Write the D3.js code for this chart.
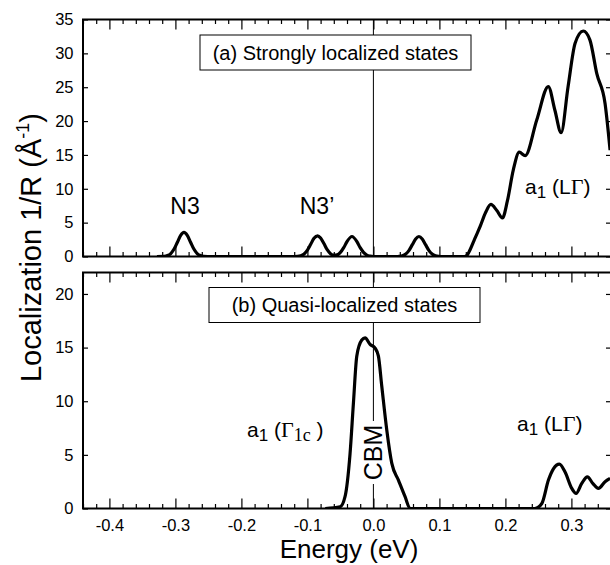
<!DOCTYPE html>
<html>
<head>
<meta charset="utf-8">
<style>
  body { margin: 0; background: #fff; }
  text { font-family: "Liberation Sans", Arial, sans-serif; fill: #000; }
  .serif { font-family: "Liberation Serif", "Times New Roman", serif; }
</style>
</head>
<body>
<div class="chart"></div>
<script src="https://cdn.jsdelivr.net/npm/d3@7/dist/d3.min.js"></script>
<script type="text/javascript">

// (a) strongly localized states: energy (eV) and 1/R values
var topEnergy = [-0.328, -0.317, -0.312, -0.307, -0.302, -0.297, -0.292, -0.287, -0.282, -0.277, -0.272, -0.267, -0.262, -0.257, -0.245,
    -0.125, -0.115, -0.11, -0.105, -0.10, -0.095, -0.09, -0.0845, -0.08, -0.075, -0.07, -0.065, -0.06, -0.055, -0.05, -0.045, -0.04, -0.0325, -0.025, -0.02, -0.015, -0.01, -0.005, 0.0,
    0.034, 0.039, 0.044, 0.049, 0.054, 0.059, 0.064, 0.069, 0.074, 0.079, 0.084, 0.089, 0.094, 0.099, 0.105,
    0.138, 0.142, 0.1465, 0.1535, 0.1616, 0.17, 0.178, 0.187, 0.1955, 0.203, 0.212, 0.221, 0.23, 0.2476, 0.265, 0.275, 0.2844, 0.295, 0.3056, 0.318, 0.328, 0.3385, 0.351, 0.3586];
var topValue = [0, 0.03, 0.14, 0.44, 1.10, 2.11, 3.12, 3.55, 3.12, 2.11, 1.10, 0.44, 0.14, 0.03, 0,
    0, 0.03, 0.12, 0.38, 0.95, 1.81, 2.68, 3.05, 2.72, 1.92, 1.0, 0.42, 0.19, 0.24, 0.60, 1.30, 2.2, 2.95, 2.2, 1.30, 0.60, 0.21, 0.06, 0,
    0, 0.03, 0.12, 0.37, 0.91, 1.75, 2.59, 2.95, 2.59, 1.75, 0.91, 0.37, 0.12, 0.03, 0,
    0, 0.2, 1.0, 2.6, 4.4, 6.5, 7.7, 6.8, 5.7, 8.2, 12.8, 15.4, 14.9, 20.2, 25.1, 21.6, 18.3, 25.1, 31.5, 33.3, 32.0, 27.0, 22.6, 15.7];

// (b) quasi-localized states
var bottomEnergy = [-0.073, -0.0505, -0.043, -0.0354, -0.0303, -0.0252, -0.0176, -0.0126, -0.005, 0.0026, 0.0076, 0.0127, 0.0203, 0.0279, 0.0379, 0.048, 0.0556,
    0.2445, 0.2552, 0.2652, 0.2727, 0.2818, 0.2904, 0.3006, 0.3071, 0.3157, 0.3242, 0.3324, 0.3409, 0.351, 0.3586];
var bottomValue = [0, 0.15, 1.1, 5.1, 9.8, 14.2, 15.7, 15.9, 15.3, 14.95, 14.2, 11.4, 7.3, 4.2, 2.65, 1.1, 0,
    0, 0.47, 2.65, 3.7, 4.14, 3.4, 1.87, 1.4, 2.34, 2.95, 2.34, 1.87, 2.5, 2.8];

var xMajorTicks = [-0.4, -0.3, -0.2, -0.1, 0.0, 0.1, 0.2, 0.3];
var xTickLabels = ["-0.4", "-0.3", "-0.2", "-0.1", "0.0", "0.1", "0.2", "0.3"];
var xMinorTicks = [-0.44, -0.42, -0.38, -0.36, -0.34, -0.32, -0.28, -0.26, -0.24, -0.22, -0.18, -0.16, -0.14, -0.12,
    -0.08, -0.06, -0.04, -0.02, 0.02, 0.04, 0.06, 0.08, 0.12, 0.14, 0.16, 0.18, 0.22, 0.24, 0.26, 0.28, 0.32, 0.34];
var topYTicks = [0, 5, 10, 15, 20, 25, 30, 35];
var bottomYTicks = [0, 5, 10, 15, 20];

var width = 610, height = 565;
var left = 83, right = 611;

var x = d3.scaleLinear().domain([-0.44, 0.36]).range([left, right]);
var yTop = d3.scaleLinear().domain([0, 35]).range([256.5, 19.5]);
var yBot = d3.scaleLinear().domain([0, 22]).range([508.5, 272.5]);

var svg = d3.select(".chart").append("svg")
    .attr("width", width)
    .attr("height", height);

var defs = svg.append("defs");
defs.append("clipPath").attr("id", "clipTop").append("rect")
    .attr("x", left).attr("y", 19.5).attr("width", right - left).attr("height", 237);
defs.append("clipPath").attr("id", "clipBot").append("rect")
    .attr("x", left).attr("y", 272.5).attr("width", right - left).attr("height", 236);

// draws ticks (no labels unless asked) for one panel
function panelAxes(y, yTicks, withLabels) {
    var y0 = y.range()[0], y1 = y.range()[1];

    var g = svg.append("g").attr("transform", "translate(0," + y0 + ")")
        .call(d3.axisBottom(x).tickValues(xMajorTicks).tickSizeInner(-10).tickSizeOuter(0).tickPadding(11)
            .tickFormat(function(d, i) { return withLabels ? xTickLabels[i] : ""; }));
    g.selectAll("text").style("font-size", "16.5px").style("font-family", "Liberation Sans, Arial, sans-serif");
    svg.append("g").attr("transform", "translate(0," + y0 + ")")
        .call(d3.axisBottom(x).tickValues(xMinorTicks).tickSizeInner(-4.5).tickSizeOuter(0).tickFormat(""));
    svg.append("g").attr("transform", "translate(0," + y1 + ")")
        .call(d3.axisTop(x).tickValues(xMajorTicks).tickSizeInner(-10).tickSizeOuter(0).tickFormat(""));
    svg.append("g").attr("transform", "translate(0," + y1 + ")")
        .call(d3.axisTop(x).tickValues(xMinorTicks).tickSizeInner(-4.5).tickSizeOuter(0).tickFormat(""));

    var gl = svg.append("g").attr("transform", "translate(" + left + ",0)")
        .call(d3.axisLeft(y).tickValues(yTicks).tickSizeInner(-5).tickSizeOuter(0).tickPadding(9.5)
            .tickFormat(function(d) { return d; }));
    gl.selectAll("text").style("font-size", "16.5px").style("font-family", "Liberation Sans, Arial, sans-serif");
    svg.append("g").attr("transform", "translate(" + right + ",0)")
        .call(d3.axisRight(y).tickValues(yTicks).tickSizeInner(-5).tickSizeOuter(0).tickFormat(""));

    svg.selectAll(".domain").remove();
    svg.selectAll(".tick line").attr("stroke", "#000").attr("stroke-width", 1.2);

    svg.append("rect")
        .attr("x", left).attr("y", y1)
        .attr("width", right - left).attr("height", y0 - y1)
        .attr("fill", "none").attr("stroke", "#000").attr("stroke-width", 2);
}

panelAxes(yTop, topYTicks, false);
panelAxes(yBot, bottomYTicks, true);

// zero-energy lines
svg.append("line")
    .attr("x1", x(0)).attr("x2", x(0)).attr("y1", yTop(35)).attr("y2", yTop(0))
    .attr("stroke", "#000").attr("stroke-width", 1);
svg.append("line")
    .attr("x1", x(0)).attr("x2", x(0)).attr("y1", yBot(22)).attr("y2", yBot(0))
    .attr("stroke", "#000").attr("stroke-width", 1);

// panel title boxes
function titleBox(bx, by, bw, bh, label) {
    svg.append("rect").attr("x", bx).attr("y", by).attr("width", bw).attr("height", bh)
        .attr("fill", "#fff").attr("stroke", "#000").attr("stroke-width", 1);
    svg.append("text").attr("x", bx + bw / 2).attr("y", by + 24.5)
        .attr("text-anchor", "middle").style("font-size", "20px").text(label);
}
titleBox(200, 35, 271, 35, "(a) Strongly localized states");
titleBox(209, 287.5, 271, 35, "(b) Quasi-localized states");

// CBM label, breaks the zero line
svg.append("rect").attr("x", x(0) - 11).attr("y", 421).attr("width", 22).attr("height", 63).attr("fill", "#fff");
svg.append("text")
    .attr("transform", "translate(" + (x(0) + 9) + ",452.5) rotate(-90)")
    .attr("text-anchor", "middle").style("font-size", "25px").text("CBM");

// curves
var lineTop = d3.line()
    .x(function(d, i) { return x(topEnergy[i]); })
    .y(function(d) { return yTop(d); })
    .curve(d3.curveMonotoneX);
var lineBot = d3.line()
    .x(function(d, i) { return x(bottomEnergy[i]); })
    .y(function(d) { return yBot(d); })
    .curve(d3.curveMonotoneX);

svg.append("path").datum(topValue)
    .attr("clip-path", "url(#clipTop)")
    .attr("d", lineTop)
    .attr("fill", "none").attr("stroke", "#000").attr("stroke-width", 3.2).attr("stroke-linejoin", "round");
svg.append("path").datum(bottomValue)
    .attr("clip-path", "url(#clipBot)")
    .attr("d", lineBot)
    .attr("fill", "none").attr("stroke", "#000").attr("stroke-width", 3.2).attr("stroke-linejoin", "round");

// peak labels
svg.append("text").attr("x", 185).attr("y", 213.5).attr("text-anchor", "middle")
    .style("font-size", "23px").text("N3");
svg.append("text").attr("x", 317).attr("y", 214).attr("text-anchor", "middle")
    .style("font-size", "23px").text("N3\u2019");

function a1Label(lx, ly, parts) {
    var t = svg.append("text").attr("x", lx).attr("y", ly).style("font-size", "21px");
    t.append("tspan").text("a");
    t.append("tspan").attr("dy", 4).style("font-size", "17px").text("1");
    t.append("tspan").attr("dy", -4).text(" (");
    parts(t);
}
a1Label(525, 194, function(t) {
    t.append("tspan").text("L");
    t.append("tspan").attr("class", "serif").style("font-size", "22px").text("\u0393");
    t.append("tspan").text(")");
});
a1Label(517, 431, function(t) {
    t.append("tspan").text("L");
    t.append("tspan").attr("class", "serif").style("font-size", "22px").text("\u0393");
    t.append("tspan").text(")");
});
a1Label(247, 436.5, function(t) {
    t.append("tspan").attr("class", "serif").style("font-size", "22px").text("\u0393");
    t.append("tspan").attr("class", "serif").attr("dy", 4).style("font-size", "18px").text("1c");
    t.append("tspan").attr("dy", -4).text(" )");
});

// axis titles
var yt = svg.append("text")
    .attr("transform", "translate(41,247.5) rotate(-90)")
    .attr("text-anchor", "middle").style("font-size", "29px");
yt.append("tspan").text("Localization 1/R (\u00C5");
yt.append("tspan").attr("dy", -12).style("font-size", "18px").text("-1");
yt.append("tspan").attr("dy", 12).text(")");

svg.append("text").attr("x", 349).attr("y", 558)
    .attr("text-anchor", "middle").style("font-size", "26px").text("Energy (eV)");

</script>
</body>
</html>
